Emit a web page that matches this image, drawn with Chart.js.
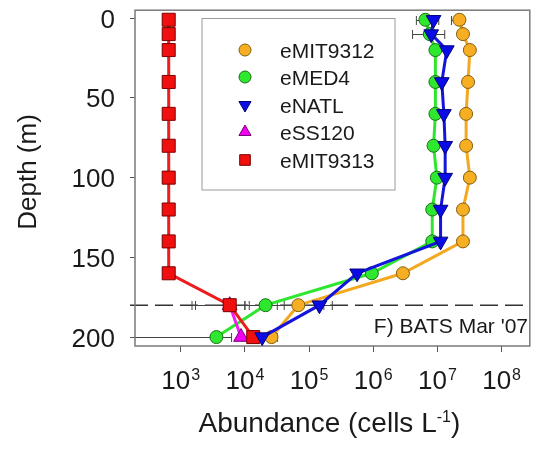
<!DOCTYPE html>
<html>
<head>
<meta charset="utf-8">
<script src="https://cdn.jsdelivr.net/npm/chart.js@4/dist/chart.umd.min.js"></script>
<style>
  html, body { margin: 0; padding: 0; background: #fff; }
  #wrap { width: 540px; height: 462px; }
</style>
</head>
<body>
<div id="wrap"><canvas id="chart" width="540" height="462"></canvas></div>
<script>
// BATS, March 2007: ecotype abundance profiles (cells per litre) vs depth (m)
const depths = [1, 10, 20, 40, 60, 80, 100, 120, 140, 160, 180, 200];

const eMIT9312 = [2.2e7, 2.5e7, 3.2e7, 3.0e7, 2.8e7, 2.8e7, 3.2e7, 2.5e7, 2.5e7, 2.9e6, 6.8e4, 2.6e4];
const eMED4 = [6.5e6, 7.6e6, 9.3e6, 9.3e6, 9.3e6, 8.7e6, 9.8e6, 8.3e6, 8.3e6, 9.5e5, 2.1e4, 3.6e3];
const eNATL = [8.7e6, 8.0e6, 1.4e7, 1.17e7, 1.26e7, 1.32e7, 1.32e7, 1.12e7, 1.12e7, 5.6e5, 1.45e5, 1.86e4];
const eSS120 = [null, null, null, null, null, null, null, null, null, null, 5.8e3, 8.7e3];
const eMIT9313 = [650, 650, 650, 650, 650, 650, 650, 650, 650, 650, 5.8e3, 1.35e4];

// [low, high] error ranges, null where no bar is shown
const errMIT9312 = [[1.66e7, 2.6e7], null, null, null, null, null, null, null, null, null, [3.2e4, 1.7e5], [2.0e4, 3.2e4]];
const errMED4 = [[4.7e6, 1.05e7], null, null, null, null, null, null, null, null, null, [1.0e4, 4.1e4], [100, 6.2e3]];
const errNATL = [null, [4.1e6, 1.3e7], null, null, null, null, null, null, null, null, [6.5e4, 2.3e5], null];
const errSS120 = [null, null, null, null, null, null, null, null, null, null, [1.7e3, 1.0e4], null];
const errMIT9313 = [null, null, null, null, null, null, null, null, null, null, [1.5e3, 1.17e4], null];

const xTicks = [1e3, 1e4, 1e5, 1e6, 1e7, 1e8];
const yTicks = [0, 50, 100, 150, 180, 200];
const yLabels = ['0', '50', '100', '150', '', '200'];
const markDepth = 180;
const panelLabel = "F) BATS Mar '07";

const FONT = '"Liberation Sans", Arial, Helvetica, sans-serif';
const INK = '#1a1a1a';

function points(values) {
  const out = [];
  values.forEach((v, i) => {
    if (v !== null) out.push({ x: v, y: depths[i] });
  });
  return out;
}

const series = [
  { label: 'eMIT9312', values: eMIT9312, err: errMIT9312, line: '#f4a81f', fill: '#f7ae22', edge: '#80600f', style: 'circle', rot: 0, r: 6.5, lr: 6, order: 5 },
  { label: 'eMED4', values: eMED4, err: errMED4, line: '#2fe62f', fill: '#2ee82e', edge: '#1c6e1c', style: 'circle', rot: 0, r: 6.5, lr: 6, order: 4 },
  { label: 'eNATL', values: eNATL, err: errNATL, line: '#1414dc', fill: '#0b0be6', edge: '#00007a', style: 'triangle', rot: 180, r: 8.5, lr: 7, order: 1 },
  { label: 'eSS120', values: eSS120, err: errSS120, line: '#f01ef0', fill: '#f000f0', edge: '#7a007a', style: 'triangle', rot: 0, r: 8.5, lr: 7, order: 3 },
  { label: 'eMIT9313', values: eMIT9313, err: errMIT9313, line: '#ee1c1c', fill: '#f01010', edge: '#7a0000', style: 'rect', rot: 0, r: 9.2, lr: 7.5, order: 2 },
];

const datasets = series.map((s) => ({
  label: s.label,
  data: points(s.values),
  showLine: true,
  tension: 0,
  borderColor: s.line,
  borderWidth: 3,
  pointStyle: s.style,
  pointRotation: s.rot,
  pointRadius: s.r,
  pointBackgroundColor: s.fill,
  pointBorderColor: s.edge,
  pointBorderWidth: 1,
  order: s.order,
}));

const decor = {
  id: 'decor',
  beforeDatasetsDraw(chart) {
    const { ctx, chartArea: a } = chart;
    const xs = chart.scales.x;
    const ys = chart.scales.y;
    ctx.save();

    // dashed marker line
    const yd = ys.getPixelForValue(markDepth);
    ctx.strokeStyle = '#333';
    ctx.lineWidth = 1.5;
    ctx.setLineDash([18, 7]);
    ctx.beginPath();
    ctx.moveTo(130, yd);
    ctx.lineTo(a.right, yd);
    ctx.stroke();
    ctx.setLineDash([]);

    // horizontal error bars
    ctx.beginPath();
    ctx.rect(a.left, a.top, a.right - a.left, a.bottom - a.top);
    ctx.clip();
    ctx.strokeStyle = '#444';
    ctx.lineWidth = 1;
    series.forEach((s) => {
      s.err.forEach((e, i) => {
        if (!e) return;
        const y = Math.round(ys.getPixelForValue(depths[i])) + 0.5;
        const x0 = xs.getPixelForValue(e[0]);
        const x1 = xs.getPixelForValue(e[1]);
        ctx.beginPath();
        ctx.moveTo(x0, y);
        ctx.lineTo(x1, y);
        ctx.moveTo(x0, y - 4.5);
        ctx.lineTo(x0, y + 4.5);
        ctx.moveTo(x1, y - 4.5);
        ctx.lineTo(x1, y + 4.5);
        ctx.stroke();
      });
    });
    ctx.restore();

    // plot frame
    ctx.save();
    ctx.strokeStyle = '#7a7a7a';
    ctx.lineWidth = 1.5;
    ctx.strokeRect(a.left, a.top, a.right - a.left, a.bottom - a.top);
    ctx.restore();
  },
  afterDraw(chart) {
    const { ctx, chartArea: a } = chart;
    const xs = chart.scales.x;
    const ys = chart.scales.y;
    ctx.save();
    ctx.fillStyle = INK;

    // y tick labels
    ctx.font = `26px ${FONT}`;
    ctx.textAlign = 'right';
    ctx.textBaseline = 'alphabetic';
    yTicks.forEach((t, i) => {
      if (!yLabels[i]) return;
      ctx.fillText(yLabels[i], 115, ys.getPixelForValue(t) + 9.5);
    });

    // x tick labels with exponents
    xTicks.forEach((t) => {
      const base = '10';
      const exp = String(Math.round(Math.log10(t)));
      ctx.font = `26px ${FONT}`;
      const wb = ctx.measureText(base).width;
      ctx.font = `16px ${FONT}`;
      const we = ctx.measureText(exp).width;
      const x0 = xs.getPixelForValue(t) - (wb + we + 1) / 2;
      ctx.textAlign = 'left';
      ctx.font = `26px ${FONT}`;
      ctx.fillText(base, x0, 388.5);
      ctx.font = `16px ${FONT}`;
      ctx.fillText(exp, x0 + wb + 1, 380);
    });

    // x axis title with superscript unit
    {
      const t1 = 'Abundance (cells L';
      const sup = '-1';
      const t2 = ')';
      ctx.font = `28px ${FONT}`;
      const w1 = ctx.measureText(t1).width;
      const w2 = ctx.measureText(t2).width;
      ctx.font = `16px ${FONT}`;
      const ws = ctx.measureText(sup).width;
      const cx = (a.left + a.right) / 2 - 3;
      let x = cx - (w1 + ws + w2) / 2;
      ctx.textAlign = 'left';
      ctx.font = `28px ${FONT}`;
      ctx.fillText(t1, x, 432);
      x += w1;
      ctx.font = `16px ${FONT}`;
      ctx.fillText(sup, x, 421.5);
      x += ws;
      ctx.font = `28px ${FONT}`;
      ctx.fillText(t2, x, 432);
    }

    // y axis title
    ctx.save();
    ctx.translate(36, 172);
    ctx.rotate(-Math.PI / 2);
    ctx.textAlign = 'center';
    ctx.font = `26px ${FONT}`;
    ctx.fillText('Depth (m)', 0, 0);
    ctx.restore();

    // panel label
    ctx.font = `21px ${FONT}`;
    ctx.textAlign = 'right';
    ctx.fillText(panelLabel, 528, 333);

    // legend
    ctx.fillStyle = '#fff';
    ctx.fillRect(202, 18.5, 193, 171.5);
    ctx.strokeStyle = '#9a9a9a';
    ctx.lineWidth = 1;
    ctx.strokeRect(202, 18.5, 193, 171.5);
    const rows = [50, 77, 105, 132, 160];
    series.forEach((s, i) => {
      ctx.fillStyle = s.fill;
      ctx.strokeStyle = s.edge;
      ctx.lineWidth = 1;
      Chart.helpers.drawPoint(ctx, {
        pointStyle: s.style, rotation: s.rot, radius: s.lr, borderWidth: 1,
      }, 245, rows[i]);
      ctx.fillStyle = INK;
      ctx.font = `21px ${FONT}`;
      ctx.textAlign = 'left';
      ctx.fillText(s.label, 280, rows[i] + 7.5);
    });
    ctx.restore();
  },
};

new Chart(document.getElementById('chart'), {
  type: 'scatter',
  data: { datasets },
  options: {
    responsive: false,
    animation: false,
    devicePixelRatio: 1,
    layout: { padding: { top: 9, right: 2, left: 0, bottom: 0 } },
    plugins: { legend: { display: false }, tooltip: { enabled: false } },
    scales: {
      x: {
        type: 'logarithmic',
        min: 194,
        max: 2.75e8,
        afterBuildTicks(scale) { scale.ticks = xTicks.map((v) => ({ value: v })); },
        afterFit(scale) { scale.height = 116; },
        ticks: { display: false },
        border: { display: false },
        grid: { drawOnChartArea: false, drawTicks: true, tickLength: 6, color: '#555', lineWidth: 1 },
      },
      y: {
        type: 'linear',
        reverse: true,
        min: -5,
        max: 205.6,
        afterBuildTicks(scale) { scale.ticks = yTicks.map((v) => ({ value: v })); },
        afterFit(scale) { scale.width = 135; },
        ticks: { display: false },
        border: { display: false },
        grid: { drawOnChartArea: false, drawTicks: true, tickLength: 5, color: '#555', lineWidth: 1 },
      },
    },
  },
  plugins: [decor],
});
</script>
</body>
</html>
